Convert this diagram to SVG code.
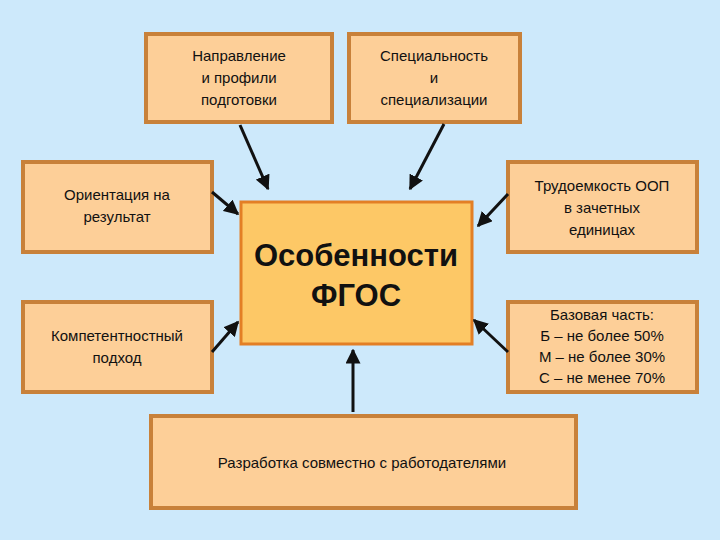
<svg xmlns="http://www.w3.org/2000/svg" width="720" height="540" viewBox="0 0 720 540">
<defs>
<style>
.b{fill:#fdcf98;stroke:#c8813a;stroke-width:4}
.t{font-family:"Liberation Sans",Arial,sans-serif;font-size:15px;fill:#111;text-anchor:middle}
.c{stroke:#111;stroke-width:3;fill:none;marker-end:url(#a)}
</style>
<marker id="a" viewBox="0 0 10 10" refX="9" refY="5" markerWidth="5" markerHeight="5" orient="auto"><path d="M0,0L10,5L0,10z" fill="#111"/></marker>
</defs>
<rect width="720" height="540" fill="#cde9fb"/>
<g id="n1"><rect class="b" x="146" y="34" width="186" height="88"/><text class="t" x="239" y="61">Направление</text><text class="t" x="239" y="83">и профили</text><text class="t" x="239" y="105">подготовки</text></g>
<g id="n2"><rect class="b" x="349" y="34" width="171" height="88"/><text class="t" x="434" y="61">Специальность</text><text class="t" x="434" y="83">и</text><text class="t" x="434" y="105">специализации</text></g>
<g id="n3"><rect class="b" x="23" y="162" width="189" height="90"/><text class="t" x="117" y="200">Ориентация на</text><text class="t" x="117" y="222">результат</text></g>
<g id="n4"><rect class="b" x="23" y="302" width="189" height="90"/><text class="t" x="117" y="341">Компетентностный</text><text class="t" x="117" y="363">подход</text></g>
<g id="n5"><rect class="b" x="508" y="162" width="189" height="90"/><text class="t" x="602" y="191">Трудоемкость ООП</text><text class="t" x="602" y="213">в зачетных</text><text class="t" x="602" y="235">единицах</text></g>
<g id="n6"><rect class="b" x="508" y="302" width="189" height="90"/><text class="t" x="602" y="320">Базовая часть:</text><text class="t" x="602" y="341">Б – не более 50%</text><text class="t" x="602" y="362">М – не более 30%</text><text class="t" x="602" y="383">С – не менее 70%</text></g>
<g id="n7"><rect x="241" y="202" width="231" height="142" fill="#fdc866" stroke="#e37f25" stroke-width="3"/><text class="t" x="356" y="266" style="font-size:31px;font-weight:bold">Особенности</text><text class="t" x="356" y="306" style="font-size:31px;font-weight:bold">ФГОС</text></g>
<g id="n8"><rect class="b" x="151" y="416" width="425" height="92"/><text class="t" x="362" y="468">Разработка совместно с работодателями</text></g>
<g id="edges">
<line class="c" x1="240" y1="125" x2="268" y2="189"/>
<line class="c" x1="444" y1="124" x2="410" y2="189"/>
<line class="c" x1="212" y1="192" x2="238" y2="214"/>
<line class="c" x1="212" y1="352" x2="238" y2="322"/>
<line class="c" x1="508" y1="194" x2="478" y2="226"/>
<line class="c" x1="508" y1="352" x2="474" y2="320"/>
<line class="c" x1="353" y1="412" x2="353" y2="350"/>
</g>
</svg>
